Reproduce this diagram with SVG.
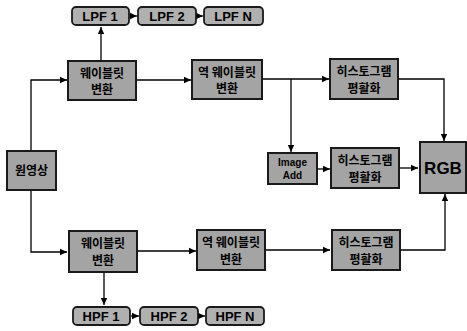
<svg xmlns="http://www.w3.org/2000/svg" width="467" height="331" viewBox="0 0 467 331">
<style>
.box{fill:#a4a4a4;stroke:#1a1a1a;stroke-width:2}
.rbox{fill:#b0b0b0;stroke:#1a1a1a;stroke-width:1.8}
.t{font-family:"Noto Sans CJK KR","Liberation Sans",sans-serif;font-size:12px;font-weight:bold;fill:#000;text-anchor:middle}
.f{font-family:"Liberation Sans",sans-serif;font-size:13px;font-weight:bold;fill:#000;text-anchor:middle}
.c{fill:none;stroke:#000;stroke-width:1.3}
</style>
<defs>
<marker id="a" markerWidth="8" markerHeight="8" refX="7" refY="4" orient="auto" markerUnits="userSpaceOnUse">
<path d="M0,0.8 L7,4 L0,7.2 Z" fill="#000"/>
</marker>
</defs>
<g id="connectors">
<path class="c" d="M31,150 V80 H67" marker-end="url(#a)"/>
<path class="c" d="M31,190 V252 H67" marker-end="url(#a)"/>
<path class="c" d="M101,60 V27" marker-end="url(#a)"/>
<path class="c" d="M104,272 V305" marker-end="url(#a)"/>
<path class="c" d="M129,16 H137" marker-end="url(#a)"/>
<path class="c" d="M196,16 H203" marker-end="url(#a)"/>
<path class="c" d="M131,316 H139" marker-end="url(#a)"/>
<path class="c" d="M199,316 H205" marker-end="url(#a)"/>
<path class="c" d="M137,80 H191" marker-end="url(#a)"/>
<path class="c" d="M263,79 H329" marker-end="url(#a)"/>
<path class="c" d="M291,79 V152" marker-end="url(#a)"/>
<path class="c" d="M318,169 H330" marker-end="url(#a)"/>
<path class="c" d="M399,168 H418" marker-end="url(#a)"/>
<path class="c" d="M399,79 H444 V141" marker-end="url(#a)"/>
<path class="c" d="M138,251 H196" marker-end="url(#a)"/>
<path class="c" d="M266,250 H330" marker-end="url(#a)"/>
<path class="c" d="M401,250 H445 V194" marker-end="url(#a)"/>
</g>
<g id="n-lpf1"><rect class="rbox" x="72" y="7" width="57" height="18" rx="4"/><text class="f" x="100" y="20.5">LPF 1</text></g>
<g id="n-lpf2"><rect class="rbox" x="138" y="7" width="58" height="18" rx="4"/><text class="f" x="167" y="20.5">LPF 2</text></g>
<g id="n-lpfn"><rect class="rbox" x="204" y="7" width="59" height="18" rx="4"/><text class="f" x="233" y="20.5">LPF N</text></g>
<g id="n-wt-top"><rect class="box" x="68" y="61" width="68" height="39"/><text class="t" x="102" y="78">웨이블릿</text><text class="t" x="102" y="94">변환</text></g>
<g id="n-iwt-top"><rect class="box" x="192" y="60" width="70" height="39"/><text class="t" x="227" y="77">역 웨이블릿</text><text class="t" x="227" y="93">변환</text></g>
<g id="n-he-top"><rect class="box" x="330" y="59" width="68" height="40"/><text class="t" x="364" y="76">히스토그램</text><text class="t" x="364" y="93">평활화</text></g>
<g id="n-orig"><rect class="box" x="7" y="151" width="49" height="39"/><text class="t" x="31.5" y="175">원영상</text></g>
<g id="n-add"><rect class="box" x="268" y="153" width="49" height="31"/><text class="f" x="292.5" y="166" style="font-size:10px">Image</text><text class="f" x="292.5" y="179" style="font-size:10px">Add</text></g>
<g id="n-he-mid"><rect class="box" x="331" y="148" width="68" height="40"/><text class="t" x="365" y="165">히스토그램</text><text class="t" x="365" y="182">평활화</text></g>
<g id="n-rgb"><rect class="box" x="420" y="142" width="46" height="51"/><text class="f" x="443" y="174" style="font-size:17px">RGB</text></g>
<g id="n-wt-bot"><rect class="box" x="69" y="231" width="68" height="41"/><text class="t" x="103" y="248">웨이블릿</text><text class="t" x="103" y="265">변환</text></g>
<g id="n-iwt-bot"><rect class="box" x="197" y="230" width="68" height="40"/><text class="t" x="231" y="247">역 웨이블릿</text><text class="t" x="231" y="264">변환</text></g>
<g id="n-he-bot"><rect class="box" x="332" y="230" width="68" height="40"/><text class="t" x="366" y="247">히스토그램</text><text class="t" x="366" y="264">평활화</text></g>
<g id="n-hpf1"><rect class="rbox" x="73" y="307" width="57" height="18" rx="4"/><text class="f" x="101" y="320.5">HPF 1</text></g>
<g id="n-hpf2"><rect class="rbox" x="140" y="307" width="58" height="18" rx="4"/><text class="f" x="169" y="320.5">HPF 2</text></g>
<g id="n-hpfn"><rect class="rbox" x="206" y="307" width="58" height="18" rx="4"/><text class="f" x="235" y="320.5">HPF N</text></g>
</svg>
